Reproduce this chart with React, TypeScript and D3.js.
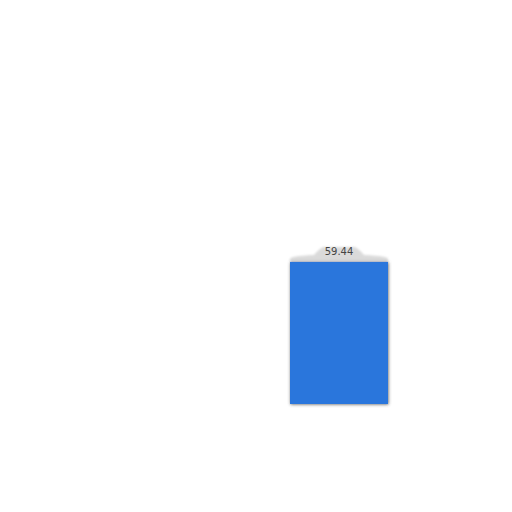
import * as d3 from 'd3';
import { useEffect, useRef } from 'react';

const categories = ['A'];
const values = [59.44];
const labels = ['59.44'];

const App = (): React.ReactElement => {
  const ref: any = useRef();
  const width = 512;
  const height = 512;

  useEffect(() => {
    const svg = d3.select(ref.current).attr('width', width).attr('height', height);
    svg.selectAll('*').remove();

    const defs = svg.append('defs');
    const shadow = defs.append('filter').attr('id', 'shadow').attr('x', '-20%').attr('y', '-20%').attr('width', '140%').attr('height', '140%');
    shadow
      .append('feDropShadow')
      .attr('dx', 0.5)
      .attr('dy', 0.5)
      .attr('stdDeviation', 1.6)
      .attr('flood-color', '#555')
      .attr('flood-opacity', 0.9);
    const soft = defs.append('filter').attr('id', 'soft');
    soft.append('feGaussianBlur').attr('stdDeviation', 1);

    const xScale = d3.scaleBand().domain(categories).range([290, 388]).padding(0);
    const yScale = d3.scaleLinear().domain([0, 100]).range([404, 165]);

    const g = svg.append('g');

    // label tab behind the value
    g.selectAll('path.tab')
      .data(values)
      .enter()
      .append('path')
      .attr('class', 'tab')
      .attr('d', (d, i) => {
        const x0 = xScale(categories[i]) ?? 0;
        const x1 = x0 + xScale.bandwidth();
        const cx = (x0 + x1) / 2;
        const top = yScale(d);
        const y0 = top - 15;
        const y1 = top - 3;
        return (
          `M${x0},${top} L${x0},${y1} Q${x0},${y1 - 3} ${cx - 25},${y1 - 4} ` +
          `Q${cx - 18},${y0} ${cx - 15},${y0} L${cx + 15},${y0} ` +
          `Q${cx + 18},${y0} ${cx + 25},${y1 - 4} Q${x1},${y1 - 3} ${x1},${y1} L${x1},${top} Z`
        );
      })
      .attr('fill', '#dadada')
      .attr('filter', 'url(#soft)');

    g.selectAll('rect')
      .data(values)
      .enter()
      .append('rect')
      .attr('x', (_d, i) => xScale(categories[i]) ?? 0)
      .attr('y', (d) => yScale(d))
      .attr('width', xScale.bandwidth())
      .attr('height', (d) => yScale(0) - yScale(d))
      .attr('fill', '#2a76dc')
      .attr('filter', 'url(#shadow)');

    g.selectAll('text')
      .data(values)
      .enter()
      .append('text')
      .attr('x', (_d, i) => (xScale(categories[i]) ?? 0) + xScale.bandwidth() / 2)
      .attr('y', (d) => yScale(d) - 7)
      .attr('text-anchor', 'middle')
      .attr('font-family', 'DejaVu Sans, sans-serif')
      .attr('font-size', 10)
      .attr('fill', '#444')
      .text((_d, i) => labels[i]);
  }, []);

  return <svg ref={ref} style={{ position: 'absolute', left: 0, top: 0 }} />;
};

export default App;
